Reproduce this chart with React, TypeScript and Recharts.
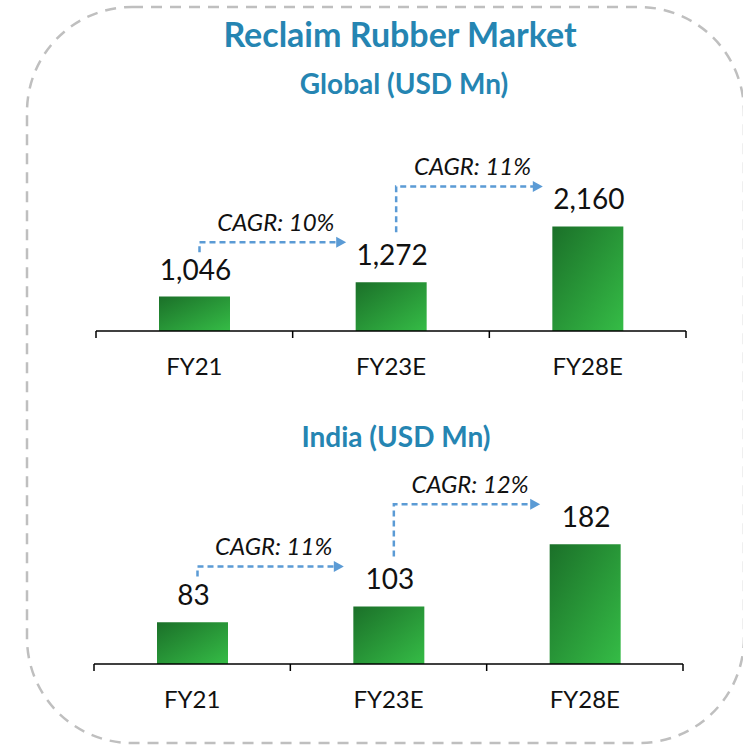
import { BarChart, Bar, XAxis, YAxis, LabelList } from 'recharts'

const categories = ['FY21', 'FY23E', 'FY28E']
const globalValues = [1046, 1272, 2160]
const indiaValues = [83, 103, 182]
const globalCagr = ['10%', '11%']
const indiaCagr = ['11%', '12%']

const FONT = 'Lato, "Open Sans", sans-serif'
const TITLE_BLUE = '#2585B2'
const ARROW_BLUE = '#5B9BD5'
const PAGE_W = 743

interface PanelProps {
  id: string
  values: number[]
  cagr: string[]
  domain: [number, number]
  top: number
  height: number
  margin: { top: number; right: number; bottom: number; left: number }
}

function Panel({ id, values, cagr, domain, top, height, margin }: PanelProps) {
  const data = categories.map((c, i) => ({ name: c, value: values[i] }))
  const band = (PAGE_W - margin.left - margin.right) / categories.length
  const half = band / 2

  // value label + CAGR arrow to the next bar
  const renderLabel = (props: any) => {
    const vb = props.viewBox ?? props
    const x = Number(props.x ?? vb.x)
    const y = Number(props.y ?? vb.y)
    const w = Number(props.width ?? vb.width)
    const h = Number(props.height ?? vb.height)
    const i = props.index as number
    const v = values[i]
    const cx = x + w / 2
    const out: any[] = [
      <text key="v" x={cx + 1} y={y - 17} textAnchor="middle" fontSize={28} fill="#111" fontFamily={FONT}>
        {v.toLocaleString('en-US')}
      </text>,
    ]
    if (i < values.length - 1) {
      const k = h / (v - domain[0])
      const nextTop = y + h - (values[i + 1] - domain[0]) * k
      const y1 = nextTop - 40
      const y0 = Math.max(y - 50, y1 + 10)
      const x0 = cx + 5
      const x1 = cx + band - 45
      out.push(
        <g key="a">
          <path d={`M${x0},${y0} V${y1} H${x1 - 8}`} fill="none" stroke={ARROW_BLUE} strokeWidth={2.5} strokeDasharray="6 4" />
          <polygon points={`${x1 - 10},${y1 - 5.5} ${x1},${y1} ${x1 - 10},${y1 + 5.5}`} fill={ARROW_BLUE} />
          <text x={(x0 + x1) / 2 + 3} y={y1 - 11} textAnchor="middle" fontSize={24} fontStyle="italic" fill="#111" fontFamily={FONT}>
            {`CAGR: ${cagr[i]}`}
          </text>
        </g>
      )
    }
    return <g>{out}</g>
  }

  const renderTick = (props: any) => {
    const { x, y, payload, index } = props
    return (
      <g>
        <line x1={x - half} y1={y} x2={x - half} y2={y + 7} stroke="#000" strokeWidth={1.5} />
        {index === categories.length - 1 && (
          <line x1={x + half} y1={y} x2={x + half} y2={y + 7} stroke="#000" strokeWidth={1.5} />
        )}
        <text x={x} y={y + 44} textAnchor="middle" fontSize={24} fill="#111" fontFamily={FONT}>
          {payload.value}
        </text>
      </g>
    )
  }

  return (
    <div style={{ position: 'absolute', left: 0, top }}>
      <BarChart width={PAGE_W} height={height} data={data} margin={margin}>
        <defs>
          <linearGradient id={id} x1="0" y1="0" x2="1" y2="1">
            <stop offset="0%" stopColor="#1B7029" />
            <stop offset="100%" stopColor="#35BC46" />
          </linearGradient>
        </defs>
        <XAxis
          dataKey="name"
          height={60}
          tickLine={false}
          tickSize={0}
          tickMargin={0}
          axisLine={{ stroke: '#000', strokeWidth: 1.5 }}
          tick={renderTick}
          interval={0}
        />
        <YAxis hide width={0} domain={domain} allowDataOverflow />
        <Bar dataKey="value" fill={`url(#${id})`} barSize={71} isAnimationActive={false}>
          <LabelList dataKey="value" content={renderLabel} />
        </Bar>
      </BarChart>
    </div>
  )
}

export default function App() {
  return (
    <div style={{ position: 'absolute', left: 0, top: 0, width: PAGE_W, height: 745, background: '#fff', fontFamily: FONT }}>
      <svg width={PAGE_W} height={745} style={{ position: 'absolute', left: 0, top: 0 }}>
        <rect x={27} y={7} width={717} height={736} rx={105} fill="none" stroke="#BFBFBF" strokeWidth={2.5} strokeDasharray="11 8" />
        <text x={400} y={47} textAnchor="middle" fontSize={34} fontWeight={700} fill={TITLE_BLUE} fontFamily={FONT}>
          Reclaim Rubber Market
        </text>
        <text x={404} y={94} textAnchor="middle" fontSize={28} fontWeight={700} fill={TITLE_BLUE} fontFamily={FONT}>
          Global (USD Mn)
        </text>
        <text x={396} y={447} textAnchor="middle" fontSize={28} fontWeight={700} fill={TITLE_BLUE} fontFamily={FONT}>
          India (USD Mn)
        </text>
      </svg>
      <Panel
        id="gradGlobal"
        values={globalValues}
        cagr={globalCagr}
        domain={[500, 2500]}
        top={0}
        height={400}
        margin={{ top: 205, right: 57, bottom: 9, left: 96 }}
      />
      <Panel
        id="gradIndia"
        values={indiaValues}
        cagr={indiaCagr}
        domain={[30, 200]}
        top={400}
        height={345}
        margin={{ top: 130, right: 60, bottom: 21, left: 94 }}
      />
    </div>
  )
}
